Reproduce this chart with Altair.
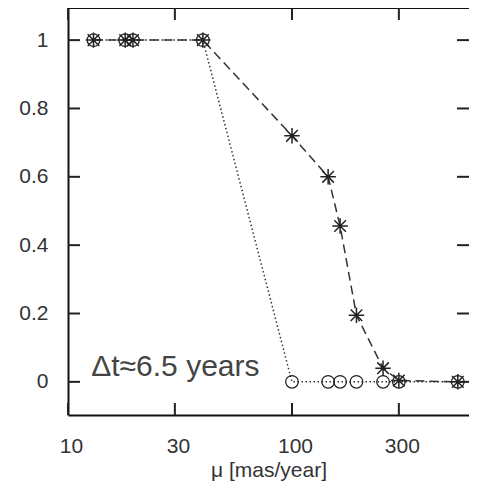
import altair as alt
import pandas as pd

# ---- data ----
mu = [13, 18, 19.5, 40, 100, 145, 164, 194, 255, 300, 550]
frac_circle = [1, 1, 1, 1, 0, 0, 0, 0, 0, 0, 0]
frac_star = [1, 1, 1, 1, 0.72, 0.60, 0.456, 0.195, 0.04, 0.004, 0]

x_ticks = [10, 30, 100, 300]
y_ticks = [0, 0.2, 0.4, 0.6, 0.8, 1]

note_text = ["Δt≈6.5 years"]
note_mu = [12.7]
note_frac = [0.018]

W, H = 401, 407
FONT = "Liberation Sans"
INK = "#222222"

circ = pd.DataFrame({"mu": mu, "frac": frac_circle})
star = pd.DataFrame({"mu": mu, "frac": frac_star})
xt = pd.DataFrame({"mu": x_ticks})
yt = pd.DataFrame({"frac": y_ticks})
note = pd.DataFrame({"mu": note_mu, "frac": note_frac, "t": note_text})

xs = alt.Scale(type="log", domain=[10, 617], nice=False)
ys = alt.Scale(domain=[-0.097, 1.094], nice=False, zero=False)

xax = alt.Axis(values=x_ticks, format="~g", labelFontSize=21, labelFont=FONT,
               labelColor="#333333", tickSize=0, domain=True, domainColor="#111111",
               domainWidth=2, grid=False, labelPadding=20, labelFlush=False,
               labelOffset=3, labelOverlap=False,
               title="μ [mas/year]", titleFontSize=21, titleFont=FONT,
               titleFontWeight="normal", titleColor="#333333", titlePadding=3)
yax = alt.Axis(values=y_ticks, format="~g", labelFontSize=21, labelFont=FONT,
               labelColor="#333333", tickSize=0, domain=True, domainColor="#111111",
               domainWidth=2, grid=False, labelPadding=20, labelOverlap=False, title=None)

X = alt.X("mu:Q", scale=xs, axis=xax)
Y = alt.Y("frac:Q", scale=ys, axis=yax)

line_c = alt.Chart(circ).mark_line(strokeDash=[1.5, 2.5], strokeWidth=1.5, color="#333333").encode(x=X, y=Y)
line_s = alt.Chart(star).mark_line(strokeDash=[9, 5], strokeWidth=1.5, color="#333333").encode(x=X, y=Y)

pts_c = alt.Chart(circ).mark_point(shape="circle", size=160, filled=False, strokeWidth=1.3,
                                   color=INK, opacity=1).encode(x=X, y=Y)
star_path = "M-1,0L1,0M0,-1L0,1M-0.75,-0.75L0.75,0.75M-0.75,0.75L0.75,-0.75"
pts_s = alt.Chart(star).mark_point(shape=star_path, size=240, filled=False, strokeWidth=1.5,
                                   color=INK, opacity=1).encode(x=X, y=Y)

TL = 12
tick_b = alt.Chart(xt).mark_rule(color=INK, strokeWidth=2).encode(
    x=alt.X("mu:Q", scale=xs), y=alt.value(H), y2=alt.value(H - TL))
tick_t = alt.Chart(xt).mark_rule(color=INK, strokeWidth=2).encode(
    x=alt.X("mu:Q", scale=xs), y=alt.value(0), y2=alt.value(TL))
tick_l = alt.Chart(yt).mark_rule(color=INK, strokeWidth=2).encode(
    y=alt.Y("frac:Q", scale=ys), x=alt.value(0), x2=alt.value(TL))
tick_r = alt.Chart(yt).mark_rule(color=INK, strokeWidth=2).encode(
    y=alt.Y("frac:Q", scale=ys), x=alt.value(W), x2=alt.value(W - TL))
top_edge = alt.Chart(xt).mark_rule(color="#111111", strokeWidth=2).encode(
    x=alt.value(0), x2=alt.value(W), y=alt.value(0))

txt = alt.Chart(note).mark_text(align="left", baseline="alphabetic", fontSize=30,
                                font=FONT, color="#444444").encode(
    x=alt.X("mu:Q", scale=xs), y=alt.Y("frac:Q", scale=ys), text="t:N")

chart = alt.layer(line_c, line_s, pts_c, pts_s, tick_b, tick_t, tick_l, tick_r, top_edge, txt).properties(
    width=W, height=H,
    autosize=alt.AutoSizeParams(type="none"),
    padding={"left": 60, "top": 0, "right": 0, "bottom": 68},
).configure_view(stroke=None)

chart.save("out.html", embed_options={"renderer": "svg", "actions": False})
